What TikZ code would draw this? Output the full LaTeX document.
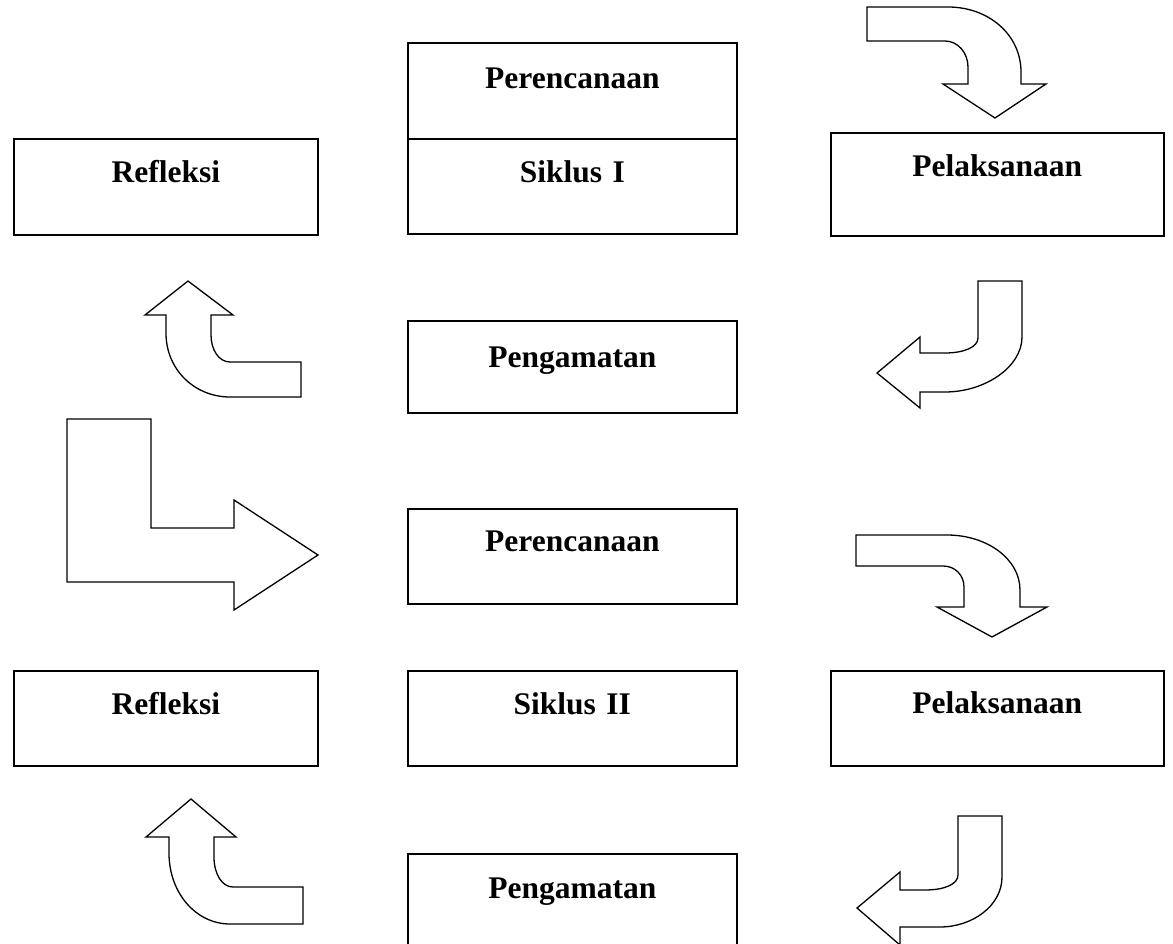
\documentclass[tikz,border=0pt]{standalone}
\usepackage{fontspec}
\setmainfont{Liberation Serif}
\begin{document}
\begin{tikzpicture}[x=1pt,y=-1pt,
  box/.style={draw, line width=1.7pt, inner sep=0pt, align=center, anchor=north west,
    font=\fontsize{31.5}{36}\selectfont\bfseries},
  blockarrow/.style={draw, fill=white, line width=1.3pt, line join=miter}]
\useasboundingbox (0,0) rectangle (1173,944);
\clip (0,0) rectangle (1173,944);
% boxes: text width = box width, text height/depth place the baseline
\node[box, text width=329pt, text height=46pt, text depth=50pt] (per1) at (407,42) {Perencanaan};
\node[box, text width=329pt, text height=44pt, text depth=51pt] (sik1) at (407,138) {Siklus I};
\node[box, text width=304pt, text height=44pt, text depth=52pt] (ref1) at (13,138) {Refleksi};
\node[box, text width=333pt, text height=44pt, text depth=59pt] (pel1) at (830,132) {Pelaksanaan};
\node[box, text width=329pt, text height=47pt, text depth=45pt] (pen1) at (407,320) {Pengamatan};
\node[box, text width=329pt, text height=43pt, text depth=52pt] (per2) at (407,508) {Perencanaan};
\node[box, text width=304pt, text height=44pt, text depth=51pt] (ref2) at (13,670) {Refleksi};
\node[box, text width=329pt, text height=44pt, text depth=51pt] (sik2) at (407,670) {Siklus II};
\node[box, text width=333pt, text height=43pt, text depth=52pt] (pel2) at (830,670) {Pelaksanaan};
\node[box, text width=329pt, text height=45pt, text depth=65pt] (pen2) at (407,853) {Pengamatan};
% block arrows
\draw[blockarrow] (867,7) -- (948,7) .. controls (989,7) and (1021,35) .. (1021,72) -- (1021,84)
  -- (1046,84) -- (995,118) -- (943,84) -- (968,84) -- (968,67)
  .. controls (968,53) and (958,41) .. (945,41) -- (867,41) -- cycle;
\draw[blockarrow] (978,281) -- (1022,281) -- (1022,337) .. controls (1022,367) and (985,392) .. (945,392)
  -- (920,392) -- (920,408) -- (877,373) -- (920,337) -- (920,353) -- (945,353)
  .. controls (964,353) and (978,347) .. (978,338) -- cycle;
\draw[blockarrow] (188,281) -- (233,315) -- (211,315) -- (211,335) .. controls (211,350) and (219,362) .. (230,362)
  -- (301,362) -- (301,397) -- (230,397) .. controls (195,397) and (166,370) .. (166,333)
  -- (166,315) -- (145,315) -- cycle;
\draw[blockarrow] (67,419) -- (151,419) -- (151,528) -- (234,528) -- (234,500) -- (318,555)
  -- (234,610) -- (234,582) -- (67,582) -- cycle;
\draw[blockarrow] (856,535) -- (947,535) .. controls (987,535) and (1020,559) .. (1020,590) -- (1020,607)
  -- (1047,607) -- (992,637) -- (937,607) -- (964,607) -- (964,587)
  .. controls (964,575) and (955,566) .. (943,566) -- (856,566) -- cycle;
\draw[blockarrow] (958,816) -- (1002,816) -- (1002,877) .. controls (1002,906) and (972,927) .. (940,927)
  -- (900,927) -- (900,945) -- (857,908) -- (900,872) -- (900,890) -- (925,890)
  .. controls (945,890) and (958,884) .. (958,875) -- cycle;
\draw[blockarrow] (191,799) -- (236,837) -- (214,837) -- (214,857) .. controls (214,874) and (222,887) .. (233,887)
  -- (303,887) -- (303,924) -- (230,924) .. controls (196,924) and (169,893) .. (169,853)
  -- (169,837) -- (146,837) -- cycle;
\end{tikzpicture}
\end{document}
